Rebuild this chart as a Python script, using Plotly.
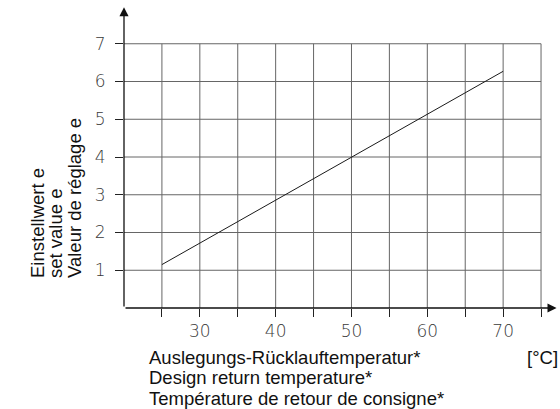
import plotly.graph_objects as go

# ---- data ----
design_temp = [25, 70]          # Auslegungs-Rücklauftemperatur [°C]
set_value = [1.15, 6.27]        # Einstellwert e

x_ticks = [25, 30, 35, 40, 45, 50, 55, 60, 65, 70, 75]
x_tick_labels = ["", "30", "", "40", "", "50", "", "60", "", "70", ""]
y_ticks = [1, 2, 3, 4, 5, 6, 7]
y_tick_labels = ["1", "2", "3", "4", "5", "6", "7"]

x_title_lines = ["Auslegungs-Rücklauftemperatur*",
                 "Design return temperature*",
                 "Température de retour de consigne*"]
y_title_lines = ["Einstellwert e", "set value e", "Valeur de réglage e"]
unit_label = "[°C]"

X_MIN, X_MAX = 20, 77.5
Y_MIN, Y_MAX = 0, 8

W, H = 560, 409
R = 0
# plot area in window pixels: x 124..560, y 6..308
L = 124
T = 6
PH = 308 - T
B = H - T - PH
PW = W - L - R


def px(x):
    return (x - L) / PW


def py(y):
    return (T + PH - y) / PH


fig = go.Figure()
fig.add_trace(go.Scatter(x=design_temp, y=set_value, mode="lines",
                         line=dict(color="#1a1a1a", width=1),
                         hoverinfo="skip", showlegend=False))

shapes = []
grid_color = "#666666"
for xv in x_ticks:
    shapes.append(dict(type="line", xref="x", yref="y", x0=xv, x1=xv,
                       y0=Y_MIN, y1=max(y_ticks),
                       line=dict(color=grid_color, width=1), layer="below"))
for yv in y_ticks:
    shapes.append(dict(type="line", xref="x", yref="y", x0=X_MIN, x1=max(x_ticks),
                       y0=yv, y1=yv,
                       line=dict(color=grid_color, width=1), layer="below"))

annotations = []
# axis arrows
annotations.append(dict(x=X_MAX - 0.45, y=0, ax=X_MIN, ay=0, xref="x", yref="y",
                        axref="x", ayref="y", text="", showarrow=True,
                        arrowhead=2, arrowsize=1.4, arrowwidth=1.3,
                        arrowcolor="#111"))
annotations.append(dict(x=X_MIN, y=Y_MAX - 0.03, ax=X_MIN, ay=0, xref="x", yref="y",
                        axref="x", ayref="y", text="", showarrow=True,
                        arrowhead=2, arrowsize=1.4, arrowwidth=1.3,
                        arrowcolor="#111"))

title_font = dict(family="Liberation Sans, Arial, sans-serif", size=18.5, color="#111")
for i, line in enumerate(x_title_lines):
    annotations.append(dict(x=px(147), y=py(357 + 20.5 * i), xref="paper", yref="paper",
                            text=line, showarrow=False, xanchor="left",
                            yanchor="middle", font=title_font))
annotations.append(dict(x=px(559.5), y=py(357), xref="paper", yref="paper",
                        text=unit_label, showarrow=False, xanchor="right",
                        yanchor="middle", font=title_font))
for i, line in enumerate(y_title_lines):
    annotations.append(dict(x=px(37 + 18.5 * i), y=py(280), xref="paper", yref="paper",
                            text=line, showarrow=False, xanchor="center",
                            yanchor="bottom", textangle=-90, font=title_font))

tick_font = dict(family="DejaVu Sans, sans-serif", size=17, color="#3a3a3a",
                 weight=200)

fig.update_layout(
    width=W, height=H, autosize=False,
    margin=dict(l=L, r=R, t=T, b=B, pad=0),
    plot_bgcolor="white", paper_bgcolor="white",
    showlegend=False,
    shapes=shapes, annotations=annotations,
    xaxis=dict(range=[X_MIN, X_MAX], showgrid=False, zeroline=False, showline=False,
               tickmode="array", tickvals=x_ticks, ticktext=x_tick_labels,
               ticks="outside", ticklen=8, tickwidth=1, tickcolor="#222",
               tickfont=tick_font, fixedrange=True),
    yaxis=dict(range=[Y_MIN, Y_MAX], showgrid=False, zeroline=False, showline=False,
               tickmode="array", tickvals=y_ticks, ticktext=y_tick_labels,
               ticks="outside", ticklen=8, tickwidth=1, tickcolor="#222",
               tickfont=tick_font, ticklabelstandoff=6, fixedrange=True),
)

fig.write_html("out.html",
               config={"displayModeBar": False, "staticPlot": True},
               post_script="document.body.style.margin='0px';"
                           "document.body.style.overflow='hidden';")
